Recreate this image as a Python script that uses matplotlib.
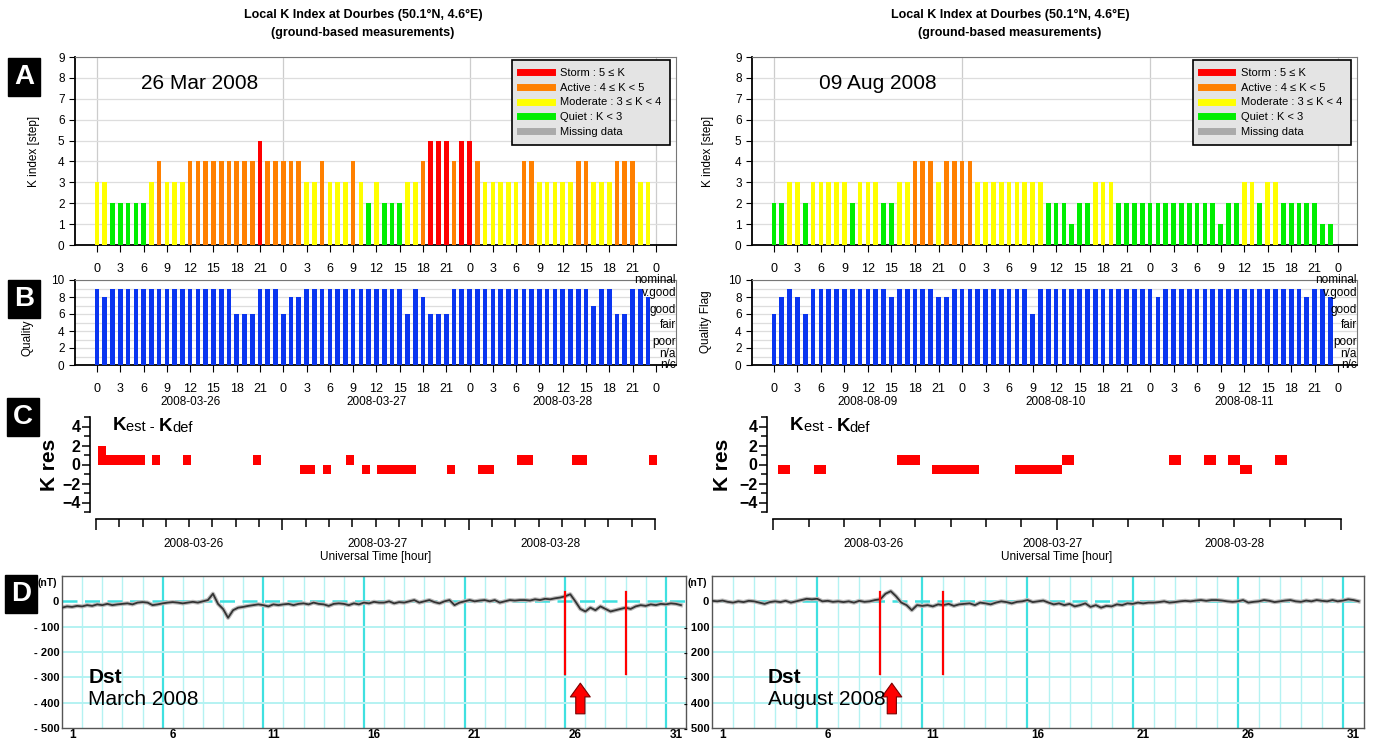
import numpy as np
import matplotlib
matplotlib.use("Agg")
import matplotlib.pyplot as plt
from matplotlib.lines import Line2D
from matplotlib.transforms import blended_transform_factory

plt.rcParams["font.family"] = ["Liberation Sans", "DejaVu Sans"]

# ---------- DATA ----------
# hourly local K index, 3 days
k_mar = [3, 3, 2, 2, 2, 2, 2, 3, 4, 3, 3, 3, 4, 4, 4, 4, 4, 4, 4, 4, 4, 5, 4, 4,
         4, 4, 4, 3, 3, 4, 3, 3, 3, 4, 3, 2, 3, 2, 2, 2, 3, 3, 4, 5, 5, 5, 4, 5,
         5, 4, 3, 3, 3, 3, 3, 4, 4, 3, 3, 3, 3, 3, 4, 4, 3, 3, 3, 4, 4, 4, 3, 3]
k_aug = [2, 2, 3, 3, 2, 3, 3, 3, 3, 3, 2, 3, 3, 3, 2, 2, 3, 3, 4, 4, 4, 3, 4, 4,
         4, 4, 3, 3, 3, 3, 3, 3, 3, 3, 3, 2, 2, 2, 1, 2, 2, 3, 3, 3, 2, 2, 2, 2,
         2, 2, 2, 2, 2, 2, 2, 2, 2, 1, 2, 2, 3, 3, 2, 3, 3, 2, 2, 2, 2, 2, 1, 1]

# hourly quality flag
q_mar = [9, 8, 9, 9, 9, 9, 9, 9, 9, 9, 9, 9, 9, 9, 9, 9, 9, 9, 6, 6, 6, 9, 9, 9,
         6, 8, 8, 9, 9, 9, 9, 9, 9, 9, 9, 9, 9, 9, 9, 9, 6, 9, 8, 6, 6, 6, 9, 9,
         9, 9, 9, 9, 9, 9, 9, 9, 9, 9, 9, 9, 9, 9, 9, 9, 7, 9, 9, 6, 6, 9, 9, 8]
q_aug = [6, 8, 9, 8, 6, 9, 9, 9, 9, 9, 9, 9, 9, 9, 9, 8, 9, 9, 9, 9, 9, 8, 8, 9,
         9, 9, 9, 9, 9, 9, 9, 9, 9, 6, 9, 9, 9, 9, 9, 9, 9, 9, 9, 9, 9, 9, 9, 9,
         9, 8, 9, 9, 9, 9, 9, 9, 9, 9, 9, 9, 9, 9, 9, 9, 9, 9, 9, 9, 8, 9, 9, 8]

# K residuals (hour, Kest - Kdef)
kres_mar_hours = [0, 1, 2, 3, 4, 5, 7, 11, 20, 26, 27, 29, 32, 34, 36, 37, 38, 39, 40,
                  45, 49, 50, 54, 55, 61, 62, 71]
kres_mar_vals = [2, 1, 1, 1, 1, 1, 1, 1, 1, -1, -1, -1, 1, -1, -1, -1, -1, -1, -1,
                 -1, -1, -1, 1, 1, 1, 1, 1]
kres_aug_hours = [0, 3, 10, 11, 13, 14, 15, 16, 20, 21, 22, 23, 24, 33, 36, 38, 39, 42]
kres_aug_vals = [-1, -1, 1, 1, -1, -1, -1, -1, -1, -1, -1, -1, 1, 1, 1, 1, -1, 1]

days_mar = ["2008-03-26", "2008-03-27", "2008-03-28"]
days_aug = ["2008-08-09", "2008-08-10", "2008-08-11"]
kres_mar_label_pos = [12.6, 36.3, 58.5]
kres_aug_label_pos = [8.5, 23.6, 39.0]

# Dst (nT), four values per day, day 1 .. 31
dst_mar = [-25, -20, -22, -18, -20, -15, -18, -12, -15, -10, -15, -12, -10, -8, -12, -5,
           -3, -5, -15, -12, -8, -5, -3, -5, -8, -5, -2, -5, 0, 5, 30, -10,
           -30, -65, -35, -25, -22, -18, -15, -12, -15, -20, -12, -15, -12, -10, -15, -10,
           -8, -12, -5, -10, -12, -18, -10, -8, -10, -15, -8, -12, -5, -8, -2, -5,
           -5, 0, -8, -3, -5, 0, 5, -5, 0, 5, -3, -8, 0, 5, -15, -5,
           0, 5, 0, 3, 5, 0, 5, -5, 0, 5, 3, 5, 5, 3, 8, 5,
           10, 8, 12, 15, 20, 28, 0, -30, -40, -25, -35, -20, -30, -40, -35, -30,
           -25, -30, -20, -15, -18, -12, -15, -10, -12, -8, -10, -15]
dst_aug = [2, 0, 3, -2, -5, 0, -3, 2, 0, -5, -10, -3, 0, -3, 2, -5,
           0, 5, 10, 8, 10, 0, 2, -2, 0, -3, 0, -5, 2, -2, 0, 5,
           8, 30, 40, 20, -5, -15, -35, -15, -18, -15, -20, -12, -15, -10, -18, -12,
           -10, -8, -15, -5, -8, -12, -5, 0, -3, -8, -2, 0, 5, -3, 0, 3,
           -5, -12, -8, -15, -10, -20, -15, -8, -22, -15, -25, -18, -20, -12, -15, -8,
           -10, -5, -8, -5, -5, -3, 0, -5, -3, 0, 2, 0, 3, 5, 2, 5,
           5, 3, 0, -2, 0, 5, -5, -2, 0, 5, 2, -3, 0, 3, 5, 0,
           -2, 3, 0, 5, 2, 0, 5, 0, 3, 8, 5, 0]
red_days_mar = [26, 29]
red_days_aug = [9, 12]
arrow_mar = 26.75
arrow_aug = 9.55

K_COLORS = {"storm": "#ff0000", "active": "#ff8000", "moderate": "#ffff00",
            "quiet": "#00ee00", "missing": "#aaaaaa"}


def k_color(v):
    if v >= 5:
        return K_COLORS["storm"]
    if v >= 4:
        return K_COLORS["active"]
    if v >= 3:
        return K_COLORS["moderate"]
    return K_COLORS["quiet"]


def style_frame(ax):
    for s in ["left", "bottom"]:
        ax.spines[s].set_color("black")
        ax.spines[s].set_linewidth(1.3)
    for s in ["top", "right"]:
        ax.spines[s].set_color("#777777")
        ax.spines[s].set_linewidth(0.8)


def hour_axis(ax, xlim):
    ax.set_xlim(*xlim)
    ticks = list(range(0, 73, 3))
    ax.set_xticks(ticks)
    ax.set_xticklabels([str(h % 24) for h in ticks])
    ax.tick_params(axis="x", length=5, pad=8, labelsize=9)
    ax.tick_params(axis="y", length=4, labelsize=8.5)


# ---------- PANEL A ----------
def draw_k(ax, k, date_text, xlim):
    hours = np.arange(len(k))
    ax.bar(hours, k, width=0.6, color=[k_color(v) for v in k], zorder=3)
    hour_axis(ax, xlim)
    ax.set_ylim(0, 9)
    ax.set_yticks(range(10))
    ax.grid(axis="y", color="#dddddd", lw=0.9, zorder=0)
    for d in range(0, 73, 24):
        ax.axvline(d, color="#cccccc", lw=0.9, zorder=1)
    style_frame(ax)
    ax.text(0.11, 0.86, date_text, transform=ax.transAxes, fontsize=15, va="center")
    handles = [Line2D([], [], color=K_COLORS[c], lw=5) for c in
               ["storm", "active", "moderate", "quiet", "missing"]]
    labels = ["Storm : 5 \u2264 K", "Active : 4 \u2264 K < 5",
              "Moderate : 3 \u2264 K < 4", "Quiet : K < 3", "Missing data"]
    leg = ax.legend(handles, labels, loc="upper right", bbox_to_anchor=(0.99, 0.985),
                    borderaxespad=0, fontsize=8, handlelength=2.8, labelspacing=0.42,
                    handletextpad=0.8, borderpad=0.75, fancybox=False,
                    framealpha=1, facecolor="#e4e4e4", edgecolor="black")
    leg.get_frame().set_linewidth(1.2)
    leg.set_zorder(5)


# ---------- PANEL B ----------
def draw_quality(ax, q, days, xlim):
    hours = np.arange(len(q))
    ax.bar(hours, q, width=0.6, color="#0a35f0", zorder=3)
    hour_axis(ax, xlim)
    ax.set_ylim(0, 10)
    ax.set_yticks(range(0, 11, 2))
    ax.set_yticks(range(11), minor=True)
    ax.grid(axis="y", which="both", color="#dddddd", lw=0.9, zorder=0)
    ax.tick_params(axis="y", which="minor", length=0)
    style_frame(ax)
    tr = blended_transform_factory(ax.transAxes, ax.transData)
    for lab, y in zip(["nominal", "v.good", "good", "fair", "poor", "n/a", "n/c"],
                      [10.0, 8.5, 6.5, 4.7, 2.7, 1.3, 0.0]):
        ax.text(1.0, y, lab, transform=tr, ha="right", va="center", fontsize=8.5,
                zorder=6)
    trx = blended_transform_factory(ax.transData, ax.transAxes)
    for i, d in enumerate(days):
        ax.annotate(d, xy=(i * 24 + 12, 0), xycoords=trx, xytext=(0, -37),
                    textcoords="offset pixels", ha="center", va="center", fontsize=8.5)


# ---------- PANEL C ----------
def draw_kres(ax, hours, vals, span, offset, days, label_pos):
    ax.bar(np.array(hours) + offset, vals, width=1, align="edge", color="#ff0000",
           clip_on=False, zorder=3)
    ax.set_xlim(0, span)
    ax.set_ylim(-5, 5)
    ax.set_yticks([-4, -2, 0, 2, 4])
    ax.set_yticks(range(-5, 6), minor=True)
    ax.set_xticks(range(0, span + 1, 24))
    ax.set_xticks(range(0, span + 1, 3), minor=True)
    ax.set_xticklabels([])
    for s in ["top", "right"]:
        ax.spines[s].set_visible(False)
    ax.spines["left"].set_position(("outward", 4))
    ax.spines["bottom"].set_position(("outward", 5))
    ax.spines["left"].set_linewidth(1.2)
    ax.spines["bottom"].set_linewidth(1.2)
    ax.tick_params(axis="y", which="major", length=6, width=1.1, labelsize=11.5, pad=1)
    ax.tick_params(axis="y", which="minor", length=4, width=1.1)
    ax.tick_params(axis="x", which="major", length=8, width=1.1)
    ax.tick_params(axis="x", which="minor", length=6, width=1.1)
    for t in ax.get_yticklabels():
        t.set_fontweight("bold")
    trx = blended_transform_factory(ax.transData, ax.transAxes)
    for d, x in zip(days, label_pos):
        ax.annotate(d, xy=(x, 0), xycoords=trx, xytext=(0, -32),
                    textcoords="offset pixels", ha="center", va="center", fontsize=8.5)
    ax.annotate("Universal Time [hour]", xy=(0.5, 0), xycoords="axes fraction",
                xytext=(0, -45), textcoords="offset pixels", ha="center", va="center",
                fontsize=8.5)
    t1 = ax.text(0.03, 0.86, "K", transform=ax.transAxes, fontsize=13.5,
                 fontweight="bold", va="baseline")
    t2 = ax.annotate("est - ", xy=(1, 0.2), xycoords=t1, va="baseline", fontsize=10.5)
    t3 = ax.annotate("K", xy=(1, 0.2), xycoords=t2, va="baseline", fontsize=13.5,
                     fontweight="bold")
    ax.annotate("def", xy=(1, 0.2), xycoords=t3, va="baseline", fontsize=10.5)


# ---------- PANEL D ----------
def draw_dst(ax, dst, red_days, arrow_day, month_text, text_x):
    t = 1 + np.arange(len(dst)) * 0.25
    ax.set_xlim(1, 32)
    ax.set_ylim(-500, 100)
    for d in range(2, 32):
        thick = (d - 1) % 5 == 0
        ax.axvline(d, color="#40e0e0" if thick else "#b4f2f2",
                   lw=1.6 if thick else 1.0, zorder=1)
    for y in [-100, -200, -300, -400]:
        ax.axhline(y, color="#b4f2f2", lw=1.4, zorder=1)
    ax.axhline(0, color="#40e0e0", lw=1.8, ls=(0, (6, 3)), zorder=1)
    ax.plot(t, dst, color="#bbbbbb", lw=3.0, zorder=2)
    ax.plot(t, dst, color="#333333", lw=1.3, zorder=3)
    for d in red_days:
        ax.plot([d, d], [35, -285], color="#ff0000", lw=1.6, zorder=4)
    ax.annotate("", xy=(arrow_day, -312), xytext=(arrow_day, -455),
                arrowprops=dict(arrowstyle="simple,head_length=0.9,head_width=1.3,tail_width=0.6",
                                fc="#ff0000", ec="#7a0000", lw=0.8, mutation_scale=11))
    day_ticks = [1, 6, 11, 16, 21, 26, 31]
    ax.set_xticks([d + 0.5 for d in day_ticks])
    ax.set_xticklabels([str(d) for d in day_ticks], fontweight="bold", fontsize=8.5)
    ax.set_yticks([-500, -400, -300, -200, -100, 0])
    ax.set_yticklabels(["- 500", "- 400", "- 300", "- 200", "- 100", "0"],
                       fontweight="bold", fontsize=8)
    ax.tick_params(axis="both", length=0, pad=2)
    ax.tick_params(axis="x", pad=1)
    tr = blended_transform_factory(ax.transAxes, ax.transData)
    ax.text(-0.008, 72, "(nT)", transform=tr, ha="right", va="center",
            fontsize=7.5, fontweight="bold")
    for s in ax.spines.values():
        s.set_color("#555555")
        s.set_linewidth(1.0)
    ax.text(text_x, 0.33, "Dst", transform=ax.transAxes, fontsize=15,
            fontweight="bold", va="center")
    ax.text(text_x, 0.19, month_text, transform=ax.transAxes, fontsize=15, va="center")


# ---------- LAYOUT ----------
fig = plt.figure(figsize=(13.74, 7.43), dpi=100)
W, H = 1374.0, 743.0


def add_axes(x0, x1, ytop, ybot):
    return fig.add_axes([x0 / W, 1 - ybot / H, (x1 - x0) / W, (ybot - ytop) / H])


axA1 = add_axes(75, 676, 57, 245)
axA2 = add_axes(752, 1357, 57, 245)
axB1 = add_axes(75, 676, 280, 365)
axB2 = add_axes(752, 1357, 280, 365)
axC1 = add_axes(96, 655, 417, 512)
axC2 = add_axes(773, 1341, 417, 512)
axD1 = add_axes(62, 686, 576, 728)
axD2 = add_axes(712, 1364, 576, 728)
axD2.set_zorder(2)

xlim_mar = (-2.84, 74.6)
xlim_aug = (-2.8, 74.4)
draw_k(axA1, k_mar, "26 Mar 2008", xlim_mar)
draw_k(axA2, k_aug, "09 Aug 2008", xlim_aug)
draw_quality(axB1, q_mar, days_mar, xlim_mar)
draw_quality(axB2, q_aug, days_aug, xlim_aug)
draw_kres(axC1, kres_mar_hours, kres_mar_vals, 72, 0.25, days_mar, kres_mar_label_pos)
draw_kres(axC2, kres_aug_hours, kres_aug_vals, 48, 0.45, days_mar, kres_aug_label_pos)
draw_dst(axD1, dst_mar, red_days_mar, arrow_mar, "March 2008", 0.042)
draw_dst(axD2, dst_aug, red_days_aug, arrow_aug, "August 2008", 0.086)

title = "Local K Index at Dourbes (50.1\u00b0N, 4.6\u00b0E)\n(ground-based measurements)"
for cx in [363, 1010]:
    fig.text(cx / W, 1 - 24 / H, title, ha="center", va="center", fontsize=9,
             fontweight="bold", linespacing=1.6)

# axis labels
fig.text(34 / W, 1 - 151 / H, "K index [step]", rotation=90, ha="center", va="center", fontsize=8.5)
fig.text(708 / W, 1 - 151 / H, "K index [step]", rotation=90, ha="center", va="center", fontsize=8.5)
fig.text(27 / W, 1 - 338 / H, "Quality", rotation=90, ha="center", va="center", fontsize=8.5)
fig.text(706 / W, 1 - 322 / H, "Quality Flag", rotation=90, ha="center", va="center", fontsize=8.5)
fig.text(50 / W, 1 - 465 / H, "K res", rotation=90, ha="center", va="center", fontsize=15,
         fontweight="bold")
fig.text(722 / W, 1 - 465 / H, "K res", rotation=90, ha="center", va="center", fontsize=15,
         fontweight="bold")

# panel letters
for letter, (x, y) in zip("ABCD", [(24, 77), (24, 299), (23, 417), (21, 594)]):
    fig.text(x / W, 1 - y / H, letter, ha="center", va="center", color="white",
             fontsize=20, fontweight="bold",
             bbox=dict(facecolor="black", edgecolor="black", boxstyle="square,pad=0.22"))

fig.savefig("out.png", dpi=100)
